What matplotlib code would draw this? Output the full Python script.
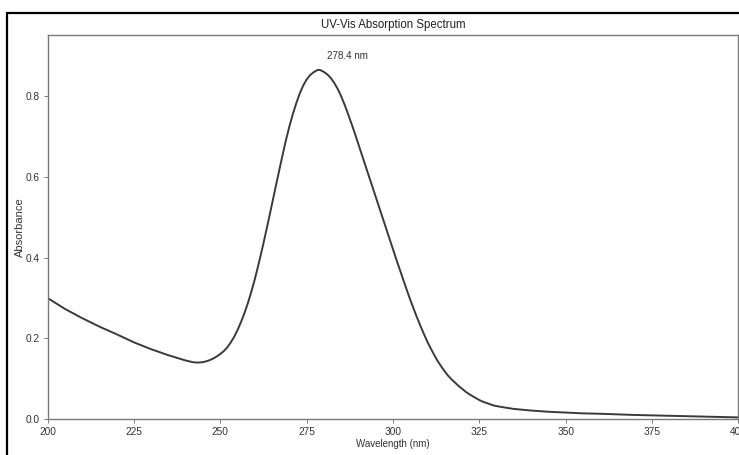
import numpy as np
import matplotlib
matplotlib.use('Agg')
import matplotlib.pyplot as plt
from matplotlib.patches import Rectangle

# wavelength (nm) and absorbance
wavelength = [200, 205, 210, 215, 220, 225, 230, 235,
              240, 241, 242, 243, 244, 245, 246, 247, 248, 249,
              250, 251, 252, 253, 254, 255, 256, 257, 258, 259,
              260, 261, 262, 263, 264, 265, 266, 267, 268, 269,
              270, 271, 272, 273, 274, 275, 276, 277, 278, 278.4, 279,
              280, 281, 282, 283, 284, 285, 286, 287, 288, 289,
              290, 291, 292, 293, 294, 295, 296, 297, 298, 299,
              300, 301, 302, 303, 304, 305, 306, 307, 308, 309,
              310, 311, 312, 313, 314, 315, 316, 317, 318, 319,
              320, 321, 322, 323, 324, 325, 326, 327, 328, 329,
              330, 332, 335, 340, 345, 350, 355, 360, 370, 380, 390, 400]
absorbance = [0.300, 0.273, 0.250, 0.229, 0.210, 0.190, 0.173, 0.158,
              0.145, 0.143, 0.141, 0.140, 0.140, 0.141, 0.143, 0.146, 0.150, 0.155,
              0.161, 0.168, 0.177, 0.189, 0.203, 0.220, 0.240, 0.262, 0.287, 0.315,
              0.346, 0.380, 0.416, 0.454, 0.493, 0.533, 0.573, 0.613, 0.652, 0.690,
              0.724, 0.755, 0.782, 0.806, 0.826, 0.841, 0.852, 0.859, 0.864, 0.865, 0.8645,
              0.860, 0.854, 0.845, 0.833, 0.818, 0.800, 0.779, 0.756, 0.732, 0.707,
              0.681, 0.655, 0.629, 0.603, 0.577, 0.551, 0.525, 0.499, 0.473, 0.447,
              0.421, 0.395, 0.370, 0.345, 0.320, 0.296, 0.273, 0.251, 0.230, 0.210,
              0.191, 0.174, 0.158, 0.143, 0.130, 0.118, 0.107, 0.098, 0.090, 0.082,
              0.075, 0.068, 0.062, 0.057, 0.052, 0.047, 0.043, 0.040, 0.037, 0.034,
              0.032, 0.029, 0.025, 0.021, 0.018, 0.016, 0.014, 0.013, 0.010, 0.008,
              0.006, 0.004]

xticks = [200, 225, 250, 275, 300, 325, 350, 375, 400]
yticks = [0.0, 0.2, 0.4, 0.6, 0.8]

plt.rcParams['font.family'] = ['Liberation Sans', 'DejaVu Sans']

fig = plt.figure(figsize=(7.39, 4.55), dpi=100)
ax = fig.add_axes([0.0643, 0.0791, 0.9348, 0.844])

ax.plot(wavelength, absorbance, color='#3a3a3a', lw=1.4)

i = int(np.argmax(absorbance))
ax.annotate('%.1f nm' % wavelength[i], xy=(wavelength[i], absorbance[i]),
            xytext=(6.5, 7.6), textcoords='offset points', ha='left', va='baseline',
            fontsize=7.1, color='#333333')

ax.set_xlim(200, 400)
ax.set_ylim(0, max(absorbance) * 1.1)
ax.set_xticks(xticks)
ax.set_yticks(yticks)
ax.tick_params(length=2.7, width=0.7, pad=2.7, labelsize=7.3,
               colors='#7a7a7a', labelcolor='#333333')
for s in ax.spines.values():
    s.set_color('#7a7a7a')
    s.set_linewidth(1.0)

ax.set_title('UV-Vis Absorption Spectrum', fontsize=8.3, pad=5, color='#222222')
ax.set_xlabel('Wavelength (nm)', fontsize=7.0, labelpad=2, color='#333333')
ax.set_ylabel('Absorbance', fontsize=8.0, labelpad=1, color='#333333')

# black frame of the screenshot (left and top edges only visible)
fig.add_artist(Rectangle((7 / 739, -0.2), 1.5, 1.2 - 13 / 455,
                         transform=fig.transFigure, fill=False,
                         edgecolor='black', lw=1.6, clip_on=False))

fig.savefig('out.png', dpi=100)
